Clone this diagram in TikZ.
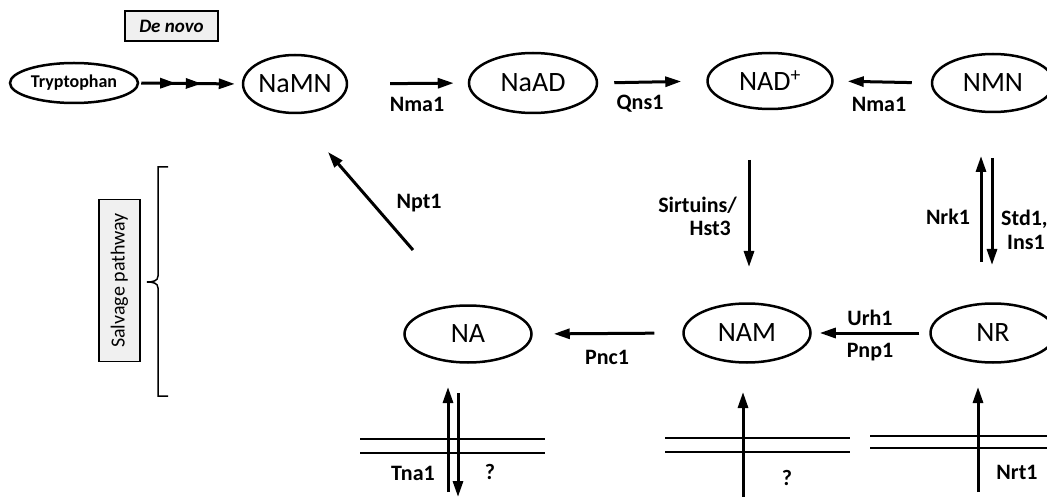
\documentclass[tikz,border=0pt]{standalone}
\usepackage{fontspec}
\setmainfont{Carlito}
\usetikzlibrary{shapes.geometric,arrows.meta,decorations.markings}
\begin{document}
\begin{tikzpicture}[x=1pt,y=-1pt,
  mol/.style={ellipse,draw,line width=2.5pt,inner sep=0pt,font=\fontsize{28}{30}\selectfont},
  lab/.style={font=\fontsize{22}{24}\selectfont\bfseries,inner sep=0pt},
  arr/.style={line width=3pt,-{Triangle[length=16pt,width=10pt]}},
  mem/.style={line width=2pt},
  boxed/.style={draw,line width=1.2pt,fill=black!6,inner sep=0pt}]
\useasboundingbox (0,0) rectangle (1047,497);
\begin{scope}
\clip (0,0) rectangle (1047,497);
% boxes
\node[boxed,minimum width=93pt,minimum height=30pt,font=\fontsize{19}{21}\selectfont\bfseries\itshape] (denovo) at (171.5,26) {De novo};
\node[boxed,minimum width=162pt,minimum height=41pt,rotate=90,font=\fontsize{20}{22}\selectfont] (salv) at (119.5,280.5) {Salvage pathway};
% bracket
\draw[line width=1.5pt] (168,167) -- (158,167) -- (158,276) .. controls (158,281) and (153,282) .. (147,282) .. controls (153,282) and (158,283) .. (158,288) -- (158,396) -- (168,396);
% molecules
\node[mol,minimum width=128pt,minimum height=40pt,font=\fontsize{18}{20}\selectfont\bfseries] (tryp) at (74,83) {Tryptophan};
\node[mol,minimum width=100pt,minimum height=58pt] (namn) at (295,84) {NaMN};
\node[mol,minimum width=128pt,minimum height=60pt] (naad) at (533,83) {NaAD};
\node[mol,minimum width=125pt,minimum height=56pt] (nad) at (770,81) {NAD\textsuperscript{+}};
\node[mol,minimum width=122pt,minimum height=58pt] (nmn) at (993,83) {NMN};
\node[mol,minimum width=127pt,minimum height=57pt] (na) at (468,334) {NA};
\node[mol,minimum width=127pt,minimum height=59pt] (nam) at (747,333) {NAM};
\node[mol,minimum width=125pt,minimum height=59pt] (nr) at (993,333) {NR};
% top row arrows
\draw[arr,shorten <=2pt,shorten >=7pt,
  postaction={decorate,decoration={markings,
    mark=at position 0.36 with {\arrow{Triangle[length=16pt,width=10pt]}},
    mark=at position 0.61 with {\arrow{Triangle[length=16pt,width=10pt]}}}}]
  (tryp.east) -- (namn.west);
\draw[arr,shorten <=42pt,shorten >=14pt] (namn.east) -- (naad.west);
\draw[arr,shorten <=16pt,shorten >=25pt] (naad.east) -- (nad.west);
\draw[arr,shorten <=19pt,shorten >=14pt] (nmn.west) -- (nad.east);
\node[lab] (l1) at (417,104) {Nma1};
\node[lab] (l2) at (640,104) {Qns1};
\node[lab] (l3) at (879,104) {Nma1};
% vertical arrows
\coordinate (s1) at (749,160); \coordinate (s2) at (749,267);
\draw[arr] (s1) -- (s2);
\node[lab,anchor=east] (lsirt1) at (737,205) {Sirtuins/};
\node[lab,anchor=east] (lsirt2) at (731,228) {Hst3};
\coordinate (k1) at (981,262); \coordinate (k2) at (981,156);
\draw[arr] (k1) -- (k2);
\coordinate (d1) at (992,158); \coordinate (d2) at (992,265);
\draw[arr] (d1) -- (d2);
\node[lab] (lnrk) at (948,217) {Nrk1};
\node[lab,anchor=west] (lstd1) at (1001,219) {Std1,};
\node[lab,anchor=west] (lstd2) at (1007,242) {Ins1};
\coordinate (p1) at (413,250); \coordinate (p2) at (328,152);
\draw[arr] (p1) -- (p2);
\node[lab] (lnpt) at (419,203) {Npt1};
% bottom row
\draw[arr,shorten <=28pt,shorten >=21pt] (nam.west) -- (na.east);
\node[lab] (lpnc) at (607,357) {Pnc1};
\draw[arr,shorten <=10pt,shorten >=8pt] (nr.west) -- (nam.east);
\node[lab] (lurh) at (870,318) {Urh1};
\node[lab] (lpnp) at (870,352) {Pnp1};
% membranes
\draw[mem] (360,439) -- (545,439); \draw[mem] (360,453) -- (545,453);
\draw[mem] (665,438) -- (850,438); \draw[mem] (665,452) -- (850,452);
\draw[mem] (870,436) -- (1047,436); \draw[mem] (870,448) -- (1047,448);
% transport arrows
\coordinate (t1) at (448,492); \coordinate (t2) at (448,387);
\draw[arr] (t1) -- (t2);
\coordinate (t3) at (458,393); \coordinate (t4) at (458,497);
\draw[arr] (t3) -- (t4);
\node[lab] (ltna) at (413,473) {Tna1};
\node[lab] (lq1) at (490,472) {?};
\coordinate (m1) at (743,500); \coordinate (m2) at (743,392);
\draw[arr] (m1) -- (m2);
\node[lab] (lq2) at (787,478) {?};
\coordinate (r1) at (978,492); \coordinate (r2) at (978,387);
\draw[arr] (r1) -- (r2);
\node[lab] (lnrt) at (1017,472) {Nrt1};
\end{scope}
\end{tikzpicture}
\end{document}
